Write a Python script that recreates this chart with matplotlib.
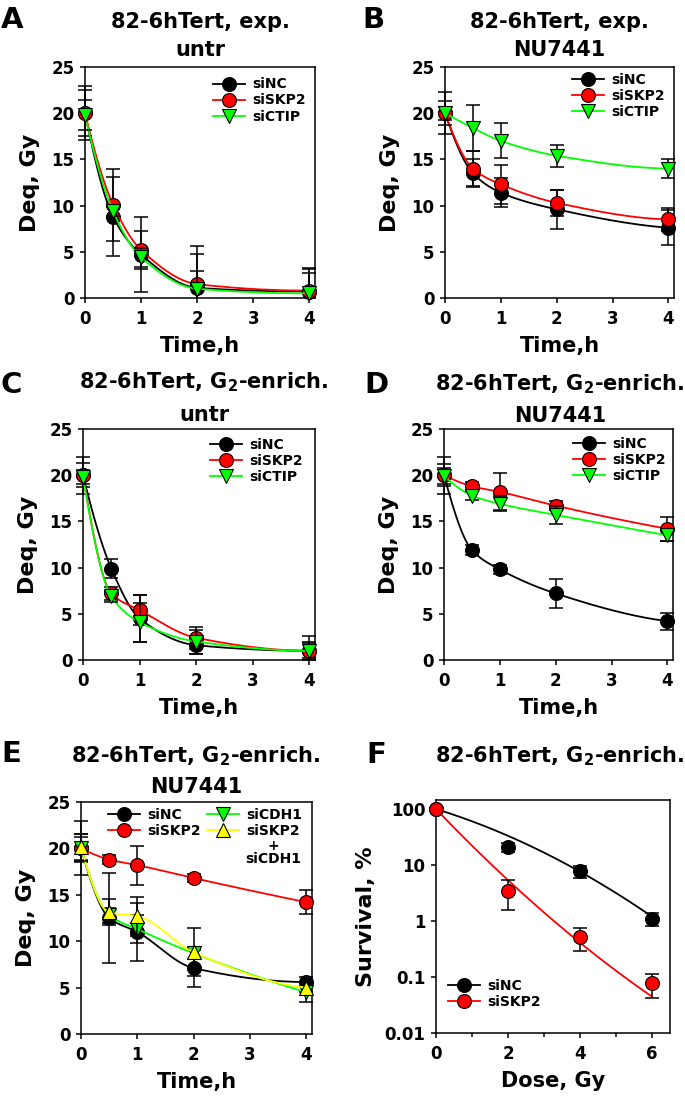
import numpy as np
import matplotlib
matplotlib.use("Agg")
import matplotlib.pyplot as plt
from matplotlib.lines import Line2D
from matplotlib.patches import Rectangle
from matplotlib.ticker import NullLocator, FixedLocator

plt.rcParams['font.family'] = ['DejaVu Sans']
plt.rcParams['font.weight'] = 'bold'
plt.rcParams['axes.labelweight'] = 'bold'
plt.rcParams['mathtext.fontset'] = 'dejavusans'

# ---------------- data ----------------
times = [0, 0.5, 1, 2, 4]

A_siNC = [20.0, 8.8, 4.7, 1.1, 0.7]
A_siNC_err = [2.9, 4.3, 4.1, 4.5, 2.5]
A_siSKP2 = [20.0, 10.1, 5.2, 1.5, 0.8]
A_siSKP2_err = [2.5, 3.9, 2.1, 3.3, 2.3]
A_siCTIP = [19.8, 9.4, 4.4, 1.0, 0.5]
A_siCTIP_err = [1.6, 0.5, 1.0, 1.9, 2.2]

B_siNC = [20.0, 13.5, 11.4, 9.6, 7.6]
B_siNC_err = [2.3, 1.5, 1.6, 2.1, 1.9]
B_siSKP2 = [20.0, 14.0, 12.3, 10.3, 8.5]
B_siSKP2_err = [1.3, 1.9, 2.1, 1.4, 1.2]
B_siCTIP = [20.0, 18.4, 17.0, 15.4, 14.0]
B_siCTIP_err = [0.7, 2.5, 1.9, 1.2, 1.0]

C_siNC = [20.0, 9.9, 4.5, 1.6, 1.0]
C_siNC_err = [2.0, 1.0, 2.5, 1.0, 1.6]
C_siSKP2 = [20.0, 7.2, 5.4, 2.4, 1.0]
C_siSKP2_err = [1.3, 0.7, 1.6, 1.2, 1.0]
C_siCTIP = [19.8, 6.9, 4.1, 2.0, 1.0]
C_siCTIP_err = [0.8, 0.6, 2.1, 1.3, 0.8]

D_siNC = [20.0, 11.9, 9.8, 7.2, 4.2]
D_siNC_err = [2.0, 0.5, 0.5, 1.6, 0.9]
D_siSKP2 = [20.0, 18.8, 18.2, 16.7, 14.2]
D_siSKP2_err = [1.2, 0.5, 2.0, 0.5, 1.3]
D_siCTIP = [19.9, 17.8, 16.9, 15.7, 13.5]
D_siCTIP_err = [0.9, 0.5, 0.8, 1.0, 0.6]

E_siNC = [20.0, 12.5, 11.0, 7.1, 5.6]
E_siNC_err = [2.9, 4.8, 3.1, 2.0, 0.5]
E_siSKP2 = [20.0, 18.8, 18.2, 16.8, 14.2]
E_siSKP2_err = [1.5, 0.5, 2.1, 0.4, 1.3]
E_siCDH1 = [20.0, 12.8, 11.3, 8.7, 4.5]
E_siCDH1_err = [1.2, 0.8, 1.5, 0.6, 1.0]
E_siSKP2_siCDH1 = [20.1, 13.1, 12.7, 8.8, 5.0]
E_siSKP2_siCDH1_err = [1.5, 1.4, 2.1, 2.6, 0.5]

dose = [0, 2, 4, 6]
F_siNC = [100, 21, 7.7, 1.1]
F_siNC_err = [0, 4.0, 1.8, 0.27]
F_siSKP2 = [100, 3.5, 0.52, 0.078]
F_siSKP2_err = [0, 1.9, 0.23, 0.036]
# linear-quadratic fit parameters (S% = 100*exp(-a*D - b*D^2))
F_siNC_fit = (0.457, 0.0467)
F_siSKP2_fit = (1.55, -0.044)

deq_yticks = [0, 5, 10, 15, 20, 25]
deq_xticks = [0, 1, 2, 3, 4]
surv_yticks = [0.01, 0.1, 1, 10, 100]
surv_yticklabels = ['0.01', '0.1', '1', '10', '100']
surv_xticks = [0, 2, 4, 6]

BLACK, RED, GREEN, YELLOW = '#000000', '#ff0000', '#00ff00', '#ffff00'

# ---------------- helpers ----------------
def pchip(x, y, xn):
    x = np.asarray(x, float); y = np.asarray(y, float)
    h = np.diff(x); delta = np.diff(y) / h
    n = len(x); d = np.zeros(n)
    for k in range(1, n - 1):
        if delta[k - 1] * delta[k] > 0:
            w1 = 2 * h[k] + h[k - 1]; w2 = h[k] + 2 * h[k - 1]
            d[k] = (w1 + w2) / (w1 / delta[k - 1] + w2 / delta[k])
    def endslope(h0, h1, d0, d1):
        s = ((2 * h0 + h1) * d0 - h0 * d1) / (h0 + h1)
        if np.sign(s) != np.sign(d0):
            s = 0.0
        elif np.sign(d0) != np.sign(d1) and abs(s) > abs(3 * d0):
            s = 3 * d0
        return s
    d[0] = endslope(h[0], h[1], delta[0], delta[1])
    d[-1] = endslope(h[-1], h[-2], delta[-1], delta[-2])
    idx = np.clip(np.searchsorted(x, xn) - 1, 0, n - 2)
    t = (xn - x[idx]) / h[idx]
    h00 = 2 * t**3 - 3 * t**2 + 1; h10 = t**3 - 2 * t**2 + t
    h01 = -2 * t**3 + 3 * t**2; h11 = t**3 - t**2
    return h00 * y[idx] + h10 * h[idx] * d[idx] + h01 * y[idx + 1] + h11 * h[idx] * d[idx + 1]

W, H = 685, 1103
fig = plt.figure(figsize=(W / 100, H / 100), dpi=100)

def add_ax(l, t, r, b):
    return fig.add_axes([l / W, 1 - b / H, (r - l) / W, (b - t) / H])

def style(ax):
    for s in ax.spines.values():
        s.set_linewidth(1.1)
    ax.tick_params(direction='out', length=3.5, width=1.1, labelsize=12, pad=4)
    ax.tick_params(axis='x', pad=5)
    ax.tick_params(top=False, right=False)

def series(ax, x, y, err, color, marker, z, curve_x=None, curve_y=None):
    if curve_x is None:
        xs = np.linspace(min(x), max(x), 300)
        ys = pchip(x, y, xs)
    else:
        xs, ys = curve_x, curve_y
    ax.plot(xs, ys, color=color, lw=1.3, zorder=z, clip_on=False)
    eb = ax.errorbar(x, y, yerr=err, fmt='none', ecolor='black', elinewidth=1.1,
                     capsize=5, capthick=1.1, zorder=z + 0.5)
    # clip error bars at the bottom of the plot area but let them extend left/up
    clip = Rectangle((-0.2, 0), 1.4, 1.5, transform=ax.transAxes, visible=False)
    ax.add_patch(clip)
    for art in list(eb.lines[1]) + list(eb.lines[2]):
        art.set_clip_on(True)
        art.set_clip_path(clip)
    ax.plot(x, y, linestyle='none', marker=marker, ms=10, mfc=color, mec='black',
            mew=0.8, zorder=z + 1, clip_on=False)

def handle(color, marker):
    return Line2D([], [], color=color, lw=1.3, marker=marker, ms=10, mfc=color,
                  mec='black', mew=0.8)

def deq_axes(ax):
    style(ax)
    ax.set_xlim(0, 4.1)
    ax.set_ylim(0, 25)
    ax.set_xticks(deq_xticks)
    ax.set_yticks(deq_yticks)
    ax.set_xlabel('Time,h', fontsize=15, labelpad=6)
    ax.set_ylabel('Deq, Gy', fontsize=16, labelpad=8)

def legend3(ax, anchor, labels, hs):
    ax.legend(hs, labels, loc='upper left', bbox_to_anchor=anchor, frameon=False,
              fontsize=10, handlelength=2.3, handletextpad=0.5, labelspacing=0.15,
              borderpad=0, borderaxespad=0, numpoints=1)

def titles(ax_center_px, base1, line1, base2=None, line2=None):
    fig.text(ax_center_px / W, 1 - base1 / H, line1, ha='center', va='baseline',
             fontsize=15, fontweight='bold')
    if line2 is not None:
        fig.text(ax_center_px / W, 1 - base2 / H, line2, ha='center', va='baseline',
                 fontsize=15, fontweight='bold')

def letter(x_px, base_px, s):
    fig.text(x_px / W, 1 - base_px / H, s, ha='left', va='baseline', fontsize=21,
             fontweight='bold')

g2 = r'82-6hTert, G$_\mathbf{2}$-enrich.'
lab3 = ['siNC', 'siSKP2', 'siCTIP']

# ---------------- A ----------------
axA = add_ax(85, 67, 315, 298)
series(axA, times, A_siNC, A_siNC_err, BLACK, 'o', 3)
series(axA, times, A_siSKP2, A_siSKP2_err, RED, 'o', 5)
series(axA, times, A_siCTIP, A_siCTIP_err, GREEN, 'v', 7)
deq_axes(axA)
legend3(axA, (0.557, 0.955), lab3, [handle(BLACK, 'o'), handle(RED, 'o'), handle(GREEN, 'v')])
titles(200, 28, '82-6hTert, exp.', 56, 'untr')
letter(1, 28, 'A')

# ---------------- B ----------------
axB = add_ax(445, 67, 674, 298)
series(axB, times, B_siNC, B_siNC_err, BLACK, 'o', 3)
series(axB, times, B_siSKP2, B_siSKP2_err, RED, 'o', 5)
series(axB, times, B_siCTIP, B_siCTIP_err, GREEN, 'v', 7)
deq_axes(axB)
legend3(axB, (0.555, 0.975), lab3, [handle(BLACK, 'o'), handle(RED, 'o'), handle(GREEN, 'v')])
titles(559, 28, '82-6hTert, exp.', 56, 'NU7441')
letter(362, 28, 'B')

# ---------------- C ----------------
axC = add_ax(83, 429, 315, 660)
series(axC, times, C_siNC, C_siNC_err, BLACK, 'o', 3)
series(axC, times, C_siSKP2, C_siSKP2_err, RED, 'o', 5)
series(axC, times, C_siCTIP, C_siCTIP_err, GREEN, 'v', 7)
deq_axes(axC)
legend3(axC, (0.547, 0.962), lab3, [handle(BLACK, 'o'), handle(RED, 'o'), handle(GREEN, 'v')])
titles(204, 388, g2, 421, 'untr')
letter(1, 393, 'C')

# ---------------- D ----------------
axD = add_ax(444, 429, 673, 660)
series(axD, times, D_siNC, D_siNC_err, BLACK, 'o', 3)
series(axD, times, D_siSKP2, D_siSKP2_err, RED, 'o', 5)
series(axD, times, D_siCTIP, D_siCTIP_err, GREEN, 'v', 7)
deq_axes(axD)
legend3(axD, (0.563, 0.967), lab3, [handle(BLACK, 'o'), handle(RED, 'o'), handle(GREEN, 'v')])
titles(560, 390, g2, 422, 'NU7441')
letter(364, 393, 'D')

# ---------------- E ----------------
axE = add_ax(81, 802, 312, 1034)
series(axE, times, E_siNC, E_siNC_err, BLACK, 'o', 3)
series(axE, times, E_siSKP2, E_siSKP2_err, RED, 'o', 5)
series(axE, times, E_siCDH1, E_siCDH1_err, GREEN, 'v', 7)
series(axE, times, E_siSKP2_siCDH1, E_siSKP2_siCDH1_err, YELLOW, '^', 9)
deq_axes(axE)
legE = axE.legend([handle(BLACK, 'o'), handle(RED, 'o'), handle(GREEN, 'v'), handle(YELLOW, '^')],
                  ['siNC', 'siSKP2', 'siCDH1', 'siSKP2'], ncol=2, loc='upper left',
                  bbox_to_anchor=(0.117, 0.975), frameon=False, fontsize=10,
                  handlelength=2.3, handletextpad=0.5, labelspacing=0.15, columnspacing=0.5,
                  borderpad=0, borderaxespad=0, numpoints=1)
fig.canvas.draw()
t4 = legE.get_texts()[3]
bb = t4.get_window_extent()
cx = (bb.x0 + bb.x1) / 2
fig.text(cx / fig.bbox.width, (bb.y0 - 1) / fig.bbox.height, '+\nsiCDH1', ha='center',
         va='top', fontsize=10, fontweight='bold', linespacing=0.95, multialignment='center')
titles(196, 762, g2, 793, 'NU7441')
letter(1, 762, 'E')

# ---------------- F ----------------
axF = add_ax(436, 800, 670, 1033)
style(axF)
dfine = np.linspace(0, 6, 200)
series(axF, dose, F_siNC, F_siNC_err, BLACK, 'o', 3,
       dfine, 100 * np.exp(-F_siNC_fit[0] * dfine - F_siNC_fit[1] * dfine**2))
series(axF, dose, F_siSKP2, F_siSKP2_err, RED, 'o', 5,
       dfine, 100 * np.exp(-F_siSKP2_fit[0] * dfine - F_siSKP2_fit[1] * dfine**2))
axF.set_yscale('log')
axF.set_xlim(0, 6.5)
axF.set_ylim(0.01, 145)
axF.yaxis.set_major_locator(FixedLocator(surv_yticks))
axF.set_yticklabels(surv_yticklabels)
axF.yaxis.set_minor_locator(NullLocator())
axF.set_xticks(surv_xticks)
axF.xaxis.set_minor_locator(FixedLocator([1, 3, 5]))
axF.tick_params(which='minor', direction='out', length=3, width=1.1)
axF.set_xlabel('Dose, Gy', fontsize=15, labelpad=6)
axF.set_ylabel('Survival, %', fontsize=16, labelpad=6)
axF.legend([handle(BLACK, 'o'), handle(RED, 'o')], ['siNC', 'siSKP2'], loc='upper left',
           bbox_to_anchor=(0.051, 0.232), frameon=False, fontsize=10, handlelength=2.3,
           handletextpad=0.5, labelspacing=0.15, borderpad=0, borderaxespad=0, numpoints=1)
titles(560, 762, g2)
letter(366, 763, 'F')

fig.savefig('out.png', dpi=100)
